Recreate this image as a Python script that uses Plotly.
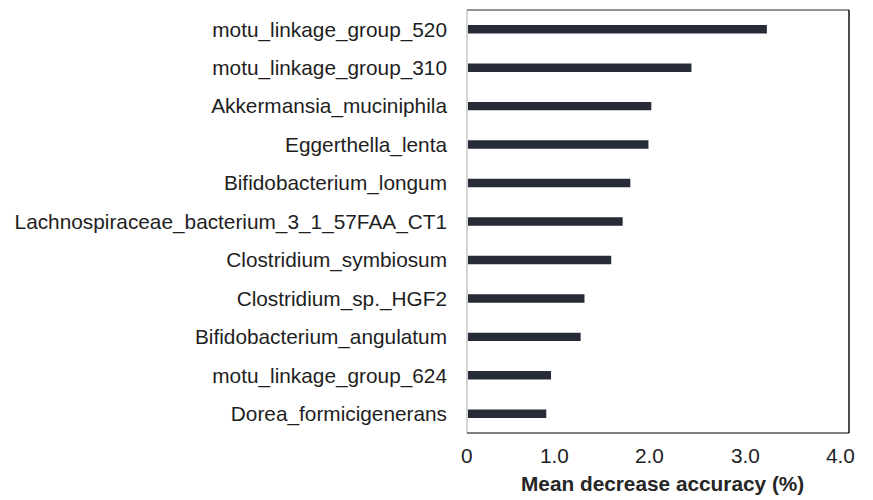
import plotly.graph_objects as go

# Feature importance from the random forest model
features = [
    "motu_linkage_group_520",
    "motu_linkage_group_310",
    "Akkermansia_muciniphila",
    "Eggerthella_lenta",
    "Bifidobacterium_longum",
    "Lachnospiraceae_bacterium_3_1_57FAA_CT1",
    "Clostridium_symbiosum",
    "Clostridium_sp._HGF2",
    "Bifidobacterium_angulatum",
    "motu_linkage_group_624",
    "Dorea_formicigenerans",
]
mean_decrease_accuracy = [3.14, 2.35, 1.93, 1.90, 1.71, 1.63, 1.51, 1.23, 1.19, 0.88, 0.83]

x_tick_values = [0, 1, 2, 3, 4]
x_tick_labels = ["0", "1.0", "2.0", "3.0", "4.0"]

FONT = "Liberation Sans, Arial, sans-serif"
TEXT = "#1e1e1e"
FS = 20.8

fig = go.Figure()
fig.add_trace(
    go.Bar(
        x=mean_decrease_accuracy,
        y=features,
        orientation="h",
        width=0.22,
        marker=dict(color="#272b37", line=dict(width=0)),
        hoverinfo="x+y",
    )
)

# x tick labels, anchored at their right edge just past the tick position
annotations = [
    dict(
        x=v, y=0, xref="x", yref="paper",
        text=t, showarrow=False,
        xanchor="right", yanchor="middle",
        xshift=8, yshift=-22,
        font=dict(family=FONT, size=FS, color=TEXT),
    )
    for v, t in zip(x_tick_values, x_tick_labels)
]
annotations.append(
    dict(
        x=0.5, y=0, xref="paper", yref="paper",
        text="<b>Mean decrease accuracy (%)</b>", showarrow=False,
        xanchor="center", yanchor="middle",
        xshift=4, yshift=-50,
        font=dict(family=FONT, size=FS, color="#262626"),
    )
)

# plot frame: light left edge, darker top/bottom, black right edge
shapes = [
    dict(type="line", xref="paper", yref="paper", x0=0, x1=0, y0=0, y1=1,
         line=dict(color="#d4d4d4", width=2)),
    dict(type="line", xref="paper", yref="paper", x0=0, x1=1, y0=1, y1=1,
         line=dict(color="#6e6e6e", width=1.5)),
    dict(type="line", xref="paper", yref="paper", x0=0, x1=1, y0=0, y1=0,
         line=dict(color="#555555", width=1.5)),
    dict(type="line", xref="paper", yref="paper", x0=1, x1=1, y0=0, y1=1,
         line=dict(color="#111111", width=1.5)),
]

fig.update_layout(
    width=873,
    height=500,
    margin=dict(l=467, r=24, t=10, b=67),
    paper_bgcolor="white",
    plot_bgcolor="white",
    showlegend=False,
    font=dict(family=FONT, size=FS, color=TEXT),
    annotations=annotations,
    shapes=shapes,
    xaxis=dict(
        range=[0, 4],
        showticklabels=False,
        showgrid=False,
        zeroline=False,
        showline=False,
        ticks="",
        fixedrange=True,
    ),
    yaxis=dict(
        categoryorder="array",
        categoryarray=features[::-1],
        showgrid=False,
        zeroline=False,
        showline=False,
        ticks="",
        ticklabelstandoff=19,
        tickfont=dict(family=FONT, size=FS, color=TEXT),
        fixedrange=True,
    ),
)

fig.write_html("out.html")
